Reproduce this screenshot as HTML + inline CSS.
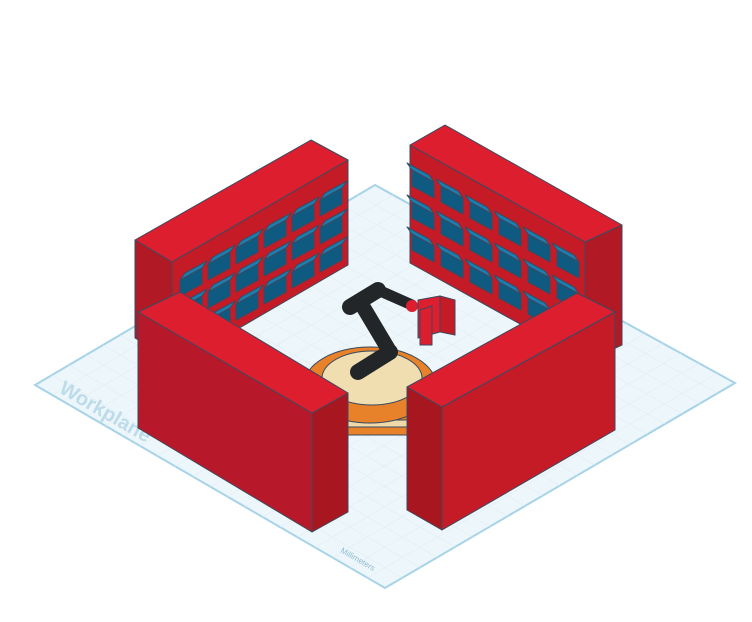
<!DOCTYPE html>
<html><head><meta charset="utf-8"><style>
html,body{margin:0;padding:0;background:#fff;}
svg{display:block;}
</style></head><body>
<svg id="scene" width="752" height="622" viewBox="0 0 752 622" xmlns="http://www.w3.org/2000/svg" font-family="Liberation Sans, sans-serif">
<rect width="752" height="622" fill="#ffffff"/>
<g>
  <polygon points="35,385 375,185 735,383 385,588" fill="#edf6fa" stroke="#a6d3e8" stroke-width="2"/>
  <g id="grid" stroke="#e0eef5" stroke-width="0.6"></g>
  <text x="58" y="392" fill="#bcdcea" font-size="20" font-weight="bold" transform="rotate(30 58 392)">Workplane</text>
  <text x="340" y="552" fill="#8fbcd0" font-size="8" transform="rotate(30 340 552)">Millimeters</text>
</g>

<g stroke="#3a4a60" stroke-width="1" stroke-linejoin="round">
  <polygon points="135,240 172,262 172,360 135,338" fill="#b11a24"/>
  <polygon points="172,262 348,160 348,265 172,367" fill="#c51b27"/>
  <polygon points="135,240 311,140 348,160 172,262" fill="#dd1e2e"/>
  <g id="binsL"></g>
</g>

<g stroke="#3a4a60" stroke-width="1" stroke-linejoin="round">
  <polygon points="410,145 585,242 585,360 410,263" fill="#c51b27"/>
  <polygon points="585,242 622,225 622,345 585,362" fill="#b11a24"/>
  <polygon points="410,145 445,125 622,225 585,242" fill="#dd1e2e"/>
  <g id="binsR"></g>
</g>

<g stroke="#3a4a60" stroke-width="1">
  <rect x="345" y="385" width="62" height="50" fill="#e8822a"/>
  <rect x="345" y="400" width="62" height="8" fill="#efd9a8"/>
  <rect x="345" y="420" width="62" height="7" fill="#efd9a8"/>
  <ellipse cx="370" cy="385" rx="66" ry="38" fill="#e8822a"/>
  <ellipse cx="372" cy="378" rx="50" ry="27" fill="#f0ddb0"/>
</g>
<g stroke-linecap="round" fill="none">
  <line x1="358" y1="372" x2="390" y2="352" stroke="#222628" stroke-width="16"/>
  <line x1="390" y1="352" x2="362" y2="305" stroke="#222628" stroke-width="15"/>
  <line x1="350" y1="307" x2="378" y2="290" stroke="#222628" stroke-width="16"/>
  <line x1="378" y1="290" x2="412" y2="305" stroke="#222628" stroke-width="11"/>
  <circle cx="412" cy="306" r="6" fill="#dd1e2e" stroke="none"/>
  <polygon points="418,300 440,296 440,332 418,338" fill="#dd1e2e" stroke="#3a4a60" stroke-width="1"/>
  <polygon points="440,296 455,300 455,335 440,332" fill="#c51b27" stroke="#3a4a60" stroke-width="1"/>
  <polygon points="420,310 432,306 432,345 420,345" fill="#dd1e2e" stroke="#3a4a60" stroke-width="1"/>
</g>

<g stroke="#3a4a60" stroke-width="1" stroke-linejoin="round">
  <polygon points="138,312 312,413 312,532 138,428" fill="#b8192a"/>
  <polygon points="312,413 348,393 348,512 312,532" fill="#a8161f"/>
  <polygon points="138,312 180,292 348,393 312,413" fill="#dd1e2e"/>
</g>
<g stroke="#3a4a60" stroke-width="1" stroke-linejoin="round">
  <polygon points="407,387 442,407 442,530 407,510" fill="#a8161f"/>
  <polygon points="442,407 615,312 615,430 442,530" fill="#c51b27"/>
  <polygon points="407,387 577,293 615,312 442,407" fill="#dd1e2e"/>
</g>
</svg>
<script>
const NS='http://www.w3.org/2000/svg';
const grid=document.getElementById('grid');
for(let i=1;i<20;i++){
  const t=i/20;
  const a=[35+(375-35)*t,385+(185-385)*t], b=[385+(735-385)*t,588+(383-588)*t];
  const c=[35+(385-35)*t,385+(588-385)*t], d=[375+(735-375)*t,185+(383-185)*t];
  for(const [p,q] of [[a,b],[c,d]]){
    const l=document.createElementNS(NS,'line');
    l.setAttribute('x1',p[0]);l.setAttribute('y1',p[1]);l.setAttribute('x2',q[0]);l.setAttribute('y2',q[1]);
    
    
    grid.appendChild(l);
  }
}
function bin(g,x,y,dir){
  const w=22,h=16,s=dir*12;
  const front=document.createElementNS(NS,'polygon');
  front.setAttribute('points',`${x},${y} ${x+w},${y+s} ${x+w},${y+s+h} ${x},${y+h}`);
  front.setAttribute('fill','#0f5a80');
  
  
  const top=document.createElementNS(NS,'polygon');
  const dx=dir>0?-5:5, dy=-7;
  top.setAttribute('points',`${x},${y} ${x+w},${y+s} ${x+w+dx},${y+s+dy} ${x+dx},${y+dy}`);
  top.setAttribute('fill','#1b7eb0');
  
  
  g.appendChild(front);g.appendChild(top);
}
const gL=document.getElementById('binsL');
for(let r=0;r<3;r++)for(let c=0;c<6;c++){
  bin(gL,180+c*28,280-c*16+r*28,-1);
}
const gR=document.getElementById('binsR');
for(let r=0;r<3;r++)for(let c=0;c<6;c++){
  bin(gR,412+c*29,170+c*16+r*32,1);
}
</script>
</body></html>
